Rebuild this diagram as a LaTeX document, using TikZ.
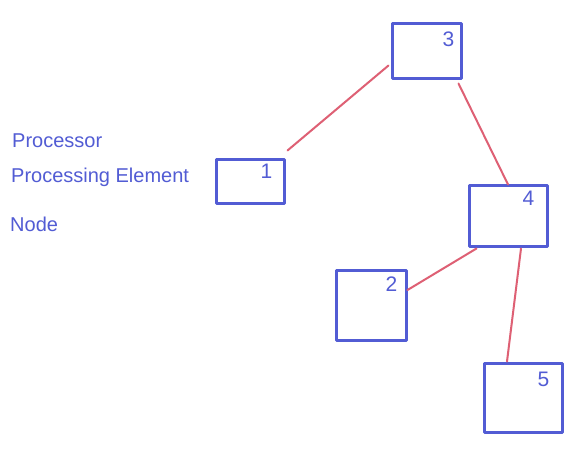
\documentclass[tikz,border=0pt]{standalone}
\usepackage{fontspec}
\setmainfont{Liberation Sans}
\usetikzlibrary{calc}
\definecolor{pen}{RGB}{82,92,212}
\definecolor{redpen}{RGB}{222,96,116}
\tikzset{
  pe/.style={draw=pen, line width=3pt, line join=round, minimum width=#1, inner sep=0pt, fill=none},
  numlbl/.style={anchor=north east, text=pen, font=\fontsize{21}{21}\selectfont, inner sep=0pt},
  link/.style={draw=redpen, line width=2pt, line cap=round},
  legend/.style={anchor=base west, text=pen, font=\fontsize{20}{20}\selectfont, inner sep=0pt}
}
\begin{document}
\begin{tikzpicture}[x=1pt,y=-1pt]
\useasboundingbox[fill=white] (0,0) rectangle (573,449);
% boxes
\node[pe=69pt, minimum height=55pt] (b3) at (426.5,51.5) {};
\node[pe=68pt, minimum height=44pt] (b1) at (250,182) {};
\node[pe=78pt, minimum height=61pt] (b4) at (508,216.5) {};
\node[pe=70pt, minimum height=70pt] (b2) at (371,305) {};
\node[pe=78pt, minimum height=69pt] (b5) at (523,397.5) {};
% numbers
\node[numlbl] (n3) at ([xshift=-8pt,yshift=-9pt]b3.north east) {3};
\node[numlbl] (n1) at ([xshift=-13pt,yshift=-5pt]b1.north east) {1};
\node[numlbl] (n4) at ([xshift=-14pt,yshift=-6pt]b4.north east) {4};
\node[numlbl] (n2) at ([xshift=-10pt,yshift=-8pt]b2.north east) {2};
\node[numlbl] (n5) at ([xshift=-14pt,yshift=-10pt]b5.north east) {5};
% connectors
\draw[link] ([xshift=2pt,yshift=8pt]b1.north east) -- ([xshift=-2pt,yshift=-14pt]b3.west);
\draw[link] ([xshift=-4pt,yshift=-3pt]b3.south east) -- (b4.north);
\draw[link] ([xshift=9pt]b4.south west) -- ([yshift=15pt]b2.east);
\draw[link] ([xshift=13pt]b4.south) -- ([xshift=-16pt]b5.north);
% legend
\node[legend] (t1) at (12,148) {Processor};
\node[legend] (t2) at (11,183) {Processing Element};
\node[legend] (t3) at (10,232) {Node};
\end{tikzpicture}
\end{document}
